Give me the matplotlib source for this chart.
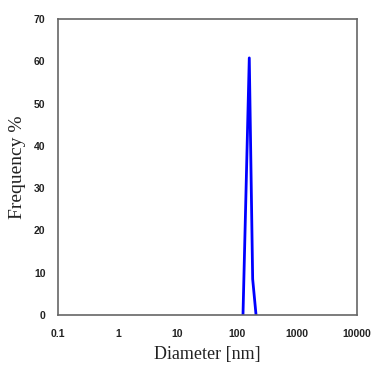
import matplotlib
matplotlib.use("Agg")
import matplotlib.pyplot as plt
from matplotlib.ticker import FixedLocator, FixedFormatter, NullLocator

diameter_nm = [124, 158, 180, 205]
frequency_pct = [0.0, 60.8, 8.5, 0.0]

x_ticks = [0.1, 1, 10, 100, 1000, 10000]
x_tick_labels = ["0.1", "1", "10", "100", "1000", "10000"]
y_ticks = [0, 10, 20, 30, 40, 50, 60, 70]

fig = plt.figure(figsize=(3.71, 3.65), dpi=100)
ax = fig.add_axes([58/371, 1 - 315/365, 299/371, 296/365])

ax.plot(diameter_nm, frequency_pct, color="#0000ff", lw=2.0)

ax.set_xscale("log")
ax.set_xlim(0.1, 10000)
ax.set_ylim(0, 70)
ax.xaxis.set_major_locator(FixedLocator(x_ticks))
ax.xaxis.set_major_formatter(FixedFormatter(x_tick_labels))
ax.xaxis.set_minor_locator(NullLocator())
ax.set_yticks(y_ticks)

for lab in ax.get_xticklabels() + ax.get_yticklabels():
    lab.set_fontfamily("Liberation Sans")
    lab.set_fontweight("bold")
    lab.set_fontsize(7.5)
    lab.set_color("#222222")

ax.tick_params(axis="both", length=0)
ax.tick_params(axis="y", pad=9)
ax.tick_params(axis="x", pad=10)

for sp in ax.spines.values():
    sp.set_color("#666666")
    sp.set_linewidth(1.2)

ax.set_xlabel("Diameter [nm]", fontfamily="Liberation Serif", fontsize=13, labelpad=5, color="#222222")
ax.set_ylabel("Frequency %", fontfamily="Liberation Serif", fontsize=14, labelpad=6, color="#222222")

fig.savefig("out.png", dpi=100)
